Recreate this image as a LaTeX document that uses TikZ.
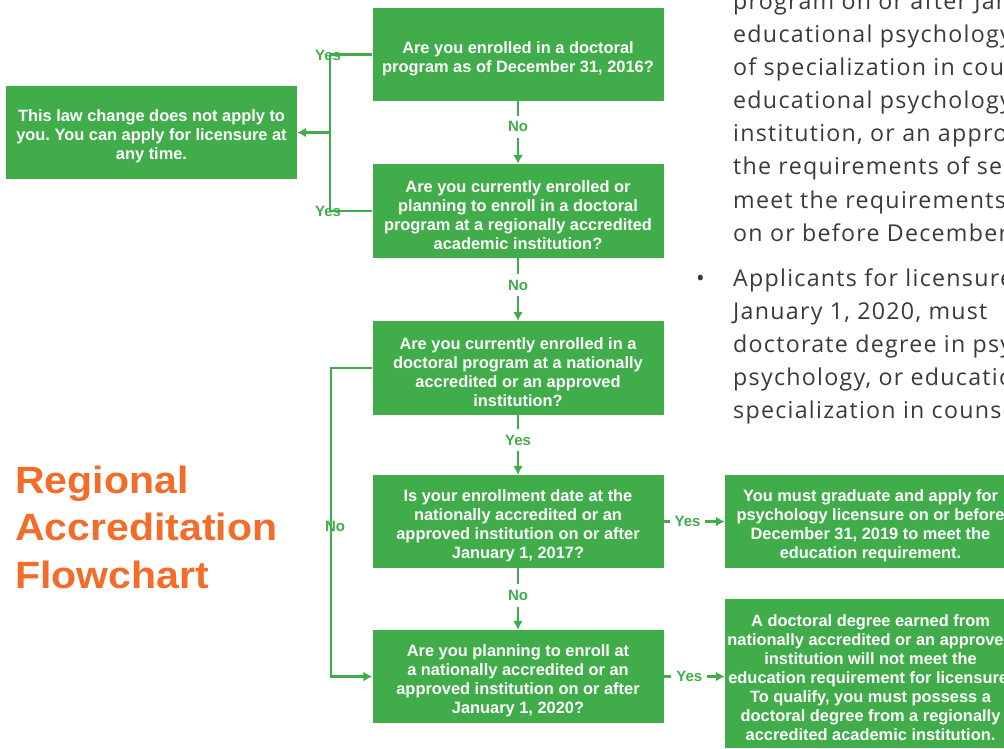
\documentclass[tikz,border=0pt]{standalone}
\usepackage{fontspec}
\usetikzlibrary{arrows.meta}
\newfontfamily\boxfont{Liberation Sans}
\newfontfamily\titlefont[FakeStretch=1.08]{Liberation Sans}
\newfontfamily\bodyfont[LetterSpace=5.5]{Open Sans}
\definecolor{fgreen}{HTML}{40AD4A}
\definecolor{forange}{HTML}{F36C29}
\definecolor{ftext}{HTML}{3A3A3A}
\newcommand\toppad{\rule{0pt}{20pt}}
\frenchspacing
\begin{document}
\frenchspacing
\begin{tikzpicture}[x=1pt,y=-1pt,
 qbox/.style={fill=fgreen, text=white, align=center, minimum width=291pt, minimum height=93pt, inner sep=0pt, font=\boxfont\bfseries\fontsize{16.4}{18.9}\selectfont},
 conn/.style={draw=fgreen, line width=2.3pt},
 arr/.style={conn, -{Latex[length=9pt,width=10pt]}},
 lbl/.style={text=fgreen, font=\boxfont\bfseries\fontsize{15}{16}\selectfont, inner sep=2pt},
 lblv/.style={lbl, fill=white, inner xsep=2pt, inner ysep=6pt},
 lblh/.style={lbl, fill=white, inner xsep=5pt, inner ysep=3pt},
 body/.style={text=ftext, anchor=base west, inner sep=0pt, font=\bodyfont\fontsize{23.2}{33}\selectfont},
 ttl/.style={text=forange, anchor=base west, inner sep=0pt, font=\titlefont\bfseries\fontsize{38}{47}\selectfont}]
\useasboundingbox (0,0) rectangle (1004,749);
\clip (0,0) rectangle (1004,749);

% body text (top right)
\node[body] (b0) at (733,10) {program on or after January};
\node[body] (b1) at (733,43) {educational psychology};
\node[body] (b2) at (733,76) {of specialization in counseling};
\node[body] (b3) at (733,109) {educational psychology};
\node[body] (b4) at (733,142) {institution, or an approved};
\node[body] (b5) at (733,175) {the requirements of section};
\node[body] (b6) at (733,208) {meet the requirements};
\node[body] (b7) at (733,241) {on or before December};
\node[body] (bul) at (696,286) {•};
\node[body] (c0) at (733,286) {Applicants for licensure};
\node[body] (c1) at (733,319) {January 1, 2020, must};
\node[body] (c2) at (733,352) {doctorate degree in psychology};
\node[body] (c3) at (733,385) {psychology, or educational};
\node[body] (c4) at (733,418) {specialization in counseling};

% title
\node[ttl] (t1) at (15,493.3) {Regional};
\node[ttl] (t2) at (15,540.7) {Accreditation};
\node[ttl] (t3) at (15,588) {Flowchart};

% boxes
\node[qbox] (q1) at (518,54.5) {\toppad Are you enrolled in a doctoral\\program as of December 31, 2016?};
\node[qbox, minimum height=94pt] (q2) at (518,211) {\toppad Are you currently enrolled or\\planning to enroll in a doctoral\\program at a regionally accredited\\academic institution?};
\node[qbox, minimum height=94pt] (q3) at (518,368) {\toppad Are you currently enrolled in a\\doctoral program at a nationally\\accredited or an approved\\institution?};
\node[qbox] (q4) at (518,521.5) {\toppad Is your enrollment date at the\\nationally accredited or an\\approved institution on or after\\January 1, 2017?};
\node[qbox] (q5) at (518,676.5) {\toppad Are you planning to enroll at\\a nationally accredited or an\\approved institution on or after\\January 1, 2020?};
\node[qbox] (lb) at (151.5,132.5) {\toppad This law change does not apply to\\you. You can apply for licensure at\\any time.};
\node[qbox] (ra) at (870.5,521.5) {\toppad You must graduate and apply for\\psychology licensure on or before\\December 31, 2019 to meet the\\education requirement.};
\node[qbox, minimum height=149pt] (rb) at (870.5,673.5) {\toppad A doctoral degree earned from\\nationally accredited or an approved\\institution will not meet the\\education requirement for licensure.\\To qualify, you must possess a\\doctoral degree from a regionally\\accredited academic institution.};

% left junction (Yes branches)
\coordinate (jy) at (330,132.5);
\draw[conn] (q1.west) -| (jy) |- (q2.west);
\draw[arr] (jy) -- (lb.east);
\node[lbl] (y1) at (328,55) {Yes};
\node[lbl] (y2) at (328,211) {Yes};

% vertical flow
\draw[arr] (q1) -- node[lblv,pos=0.41] (n1) {No} (q2);
\draw[arr] (q2) -- node[lblv,pos=0.43] (n2) {No} (q3);
\draw[arr] (q3) -- node[lblv,pos=0.42] (n3) {Yes} (q4);
\draw[arr] (q4) -- node[lblv,pos=0.44] (n4) {No} (q5);

% No branch from q3 to q5
\draw[arr] (q3.west) -- ++(-41,0) |- (q5.west);
\node[lbl] (n5) at (335,526) {No};

% right Yes arrows
\draw[arr] (q4.east) -- node[lblh,pos=0.39] (y3) {Yes} (q4.east -| ra.west);
\draw[arr] (q5.east) -- node[lblh,pos=0.42] (y4) {Yes} (q5.east -| rb.west);
\end{tikzpicture}
\end{document}
